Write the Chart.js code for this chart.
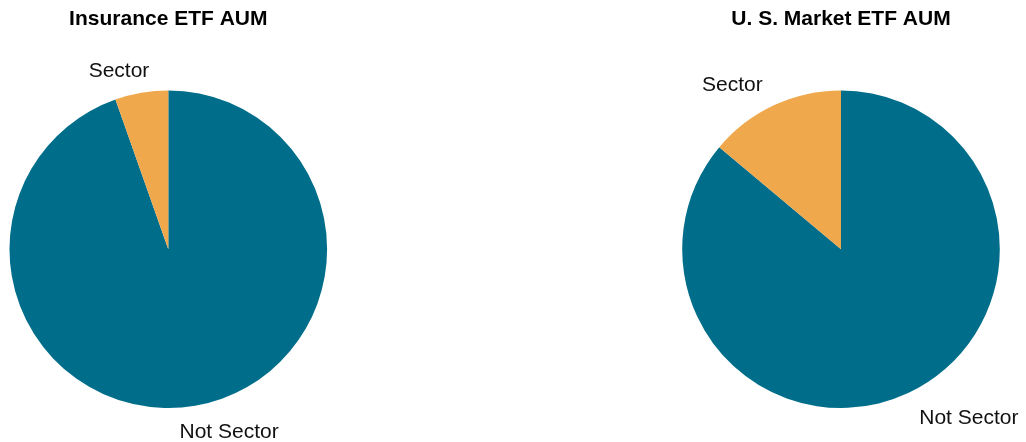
<!DOCTYPE html>
<html>
<head>
<meta charset="utf-8">
<script src="https://cdn.jsdelivr.net/npm/chart.js@4.4.1/dist/chart.umd.min.js"></script>
<style>
  html, body { margin: 0; padding: 0; background: #ffffff; }
  body { width: 1026px; height: 442px; position: relative; overflow: hidden; }
  .wrap { position: absolute; top: 0; width: 513px; height: 442px; }
  #w1 { left: 0; }
  #w2 { left: 513px; }
</style>
</head>
<body>
<div class="wrap" id="w1"><canvas id="c1" width="513" height="442"></canvas></div>
<div class="wrap" id="w2"><canvas id="c2" width="513" height="442"></canvas></div>
<script>
// ---- data ----
const categories = ["Not Sector", "Sector"];
const insuranceValues = [94.6, 5.4];
const marketValues = [86.1, 13.9];
const chartTitles = ["Insurance ETF AUM", "U. S. Market ETF AUM"];

// ---- style ----
const sliceColors = ["#006E8A", "#F0A84C"];
const fontFamily = "'Liberation Sans', Arial, Helvetica, sans-serif";

const outsideLabels = {
  id: "outsideLabels",
  afterDraw(chart) {
    const ctx = chart.ctx;
    const meta = chart.getDatasetMeta(0);
    const labels = chart.data.labels;
    ctx.save();
    ctx.font = "21px " + fontFamily;
    ctx.fillStyle = "#111111";
    ctx.textAlign = "center";
    ctx.textBaseline = "middle";
    meta.data.forEach((arc, i) => {
      const p = arc.getProps(["x", "y", "startAngle", "endAngle", "outerRadius"], true);
      const mid = (p.startAngle + p.endAngle) / 2;
      const dx = Math.cos(mid), dy = Math.sin(mid);
      const ra = p.outerRadius * 1.165;
      const ax = p.x + ra * dx;
      const ay = p.y + ra * dy + (dy < 0 ? 4 : 1);
      const w = ctx.measureText(labels[i]).width;
      const k = Math.min(1, 0.3 + 1.75 * Math.abs(dx));
      const cx = ax + Math.sign(dx) * k * w / 2;
      ctx.fillText(labels[i], cx, ay);
    });
    ctx.restore();
  }
};

function makePie(id, values, title, padLeft, padRight) {
  return new Chart(document.getElementById(id), {
    type: "pie",
    data: {
      labels: categories,
      datasets: [{
        data: values,
        backgroundColor: sliceColors,
        borderWidth: 0,
        hoverOffset: 0
      }]
    },
    options: {
      responsive: false,
      animation: false,
      events: [],
      layout: { padding: { left: padLeft, right: padRight, top: 0, bottom: 34 } },
      plugins: {
        legend: { display: false },
        tooltip: { enabled: false },
        title: {
          display: true,
          text: title,
          color: "#000000",
          font: { family: fontFamily, size: 21, weight: "bold", lineHeight: 1.2 },
          padding: { top: 6.4, bottom: 58.8 }
        }
      }
    },
    plugins: [outsideLabels]
  });
}

makePie("c1", insuranceValues, chartTitles[0], 9.3, 185.7);
makePie("c2", marketValues, chartTitles[1], 169, 26);
</script>
</body>
</html>
